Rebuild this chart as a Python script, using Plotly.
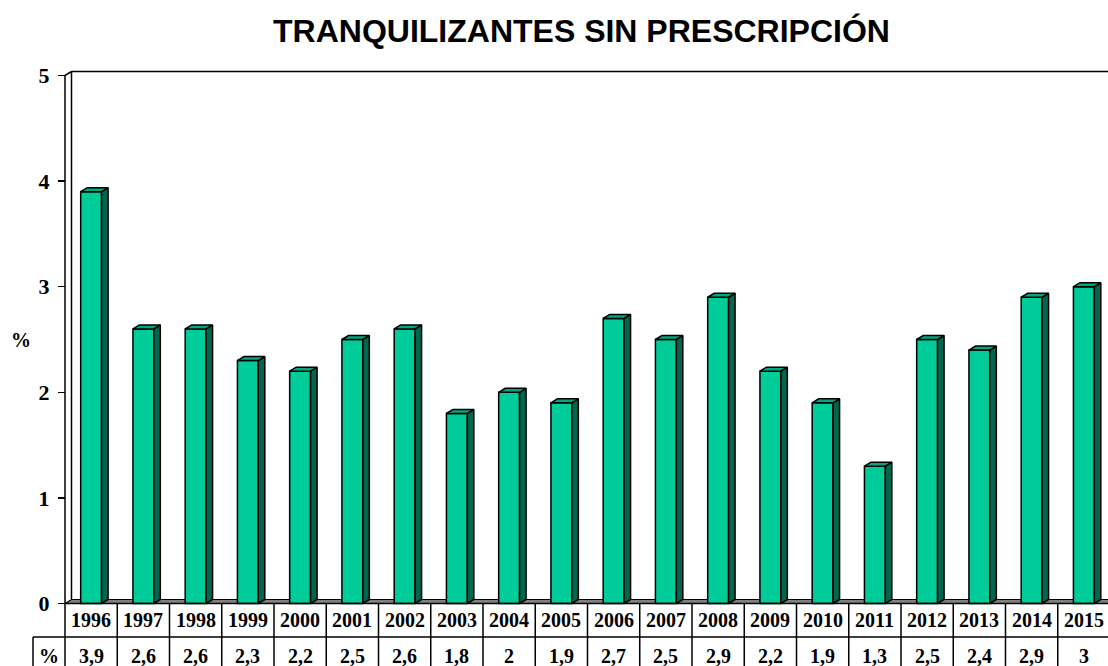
import plotly.graph_objects as go

years = ["1996", "1997", "1998", "1999", "2000", "2001", "2002", "2003", "2004", "2005",
         "2006", "2007", "2008", "2009", "2010", "2011", "2012", "2013", "2014", "2015"]
values = [3.9, 2.6, 2.6, 2.3, 2.2, 2.5, 2.6, 1.8, 2.0, 1.9,
          2.7, 2.5, 2.9, 2.2, 1.9, 1.3, 2.5, 2.4, 2.9, 3.0]
y_ticks = [0, 1, 2, 3, 4, 5]
title_text = "TRANQUILIZANTES SIN PRESCRIPCIÓN"
row_label = "%"
axis_title = "%"

FRONT = "#00CC99"
SIDE = "#00664D"
TOP = "#00A67C"
SERIF = "Liberation Serif, Times New Roman, serif"
SANS = "Liberation Sans, Arial, sans-serif"

W, H = 1108, 666
ML, MT = 30, 65
px_x = 52.25   # pixels per category
px_y = 105.6   # pixels per unit
x0 = -0.5 - (65 - ML) / px_x
x1 = x0 + (W - ML) / px_x
y_top = 5 + (75.5 - MT) / px_y
y_bot = -(H - 603.5) / px_y

bw = 0.40
dx = 6.5 / px_x
dy = 4.0 / px_y
row1_y = -(620 - 603.5) / px_y
row2_y = -(656 - 603.5) / px_y
row_split = -(637 - 603.5) / px_y
pct_left = x0 + (33 - ML) / px_x

n = len(years)
xs = list(range(n))

fig = go.Figure()

# front faces
fig.add_trace(go.Bar(x=xs, y=values, width=bw, marker=dict(color=FRONT, line=dict(color="black", width=1.5)),
                     hoverinfo="skip", showlegend=False))

# side and top faces
sx, sy = [], []
tx, ty = [], []
for i, v in zip(xs, values):
    r = i + bw / 2
    l = i - bw / 2
    sx += [r, r + dx, r + dx, r, r, None]
    sy += [0, dy, v + dy, v, 0, None]
    tx += [l, r, r + dx, l + dx, l, None]
    ty += [v, v, v + dy, v + dy, v, None]
fig.add_trace(go.Scatter(x=sx, y=sy, mode="lines", fill="toself", fillcolor=SIDE,
                         line=dict(color="black", width=1.5), hoverinfo="skip", showlegend=False))
fig.add_trace(go.Scatter(x=tx, y=ty, mode="lines", fill="toself", fillcolor=TOP,
                         line=dict(color="black", width=1.5), hoverinfo="skip", showlegend=False))

shapes = []
# floor
shapes.append(dict(type="path", xref="x", yref="y", layer="below",
                   path=f"M {-0.5},{0} L {-0.5 + dx},{dy} L {x1 + 1},{dy} L {x1 + 1},{0} Z",
                   fillcolor="#808080", line=dict(color="black", width=1.2)))
# back wall
shapes.append(dict(type="line", xref="x", yref="y", layer="below", x0=-0.5 + dx, x1=-0.5 + dx, y0=dy, y1=5 + dy,
                   line=dict(color="black", width=1.5)))
shapes.append(dict(type="line", xref="x", yref="y", layer="below", x0=-0.5 + dx, x1=x1 + 1, y0=5 + dy, y1=5 + dy,
                   line=dict(color="black", width=1.5)))
# front left wall edge
shapes.append(dict(type="path", xref="x", yref="y", layer="below",
                   path=f"M {-0.5},{0} L {-0.5},{5} L {-0.5 + dx},{5 + dy}",
                   line=dict(color="black", width=1.5)))
# table grid
shapes.append(dict(type="line", xref="x", yref="y", x0=-0.5, x1=x1 + 1, y0=0, y1=0,
                   line=dict(color="black", width=1.5)))
shapes.append(dict(type="line", xref="x", yref="y", x0=pct_left, x1=x1 + 1, y0=row_split, y1=row_split,
                   line=dict(color="black", width=1.5)))
shapes.append(dict(type="line", xref="x", yref="y", x0=pct_left, x1=pct_left, y0=row_split, y1=y_bot - 0.1,
                   line=dict(color="black", width=1.5)))
for k in range(n + 1):
    shapes.append(dict(type="line", xref="x", yref="y", x0=k - 0.5, x1=k - 0.5, y0=0, y1=y_bot - 0.1,
                       line=dict(color="black", width=1.5)))

tfont = dict(family=SERIF, size=20, color="black", weight="bold")
annotations = []
for i, (yr, v) in enumerate(zip(years, values)):
    annotations.append(dict(x=i, y=row1_y, xref="x", yref="y", text=yr, showarrow=False, font=tfont))
    annotations.append(dict(x=i, y=row2_y, xref="x", yref="y", text=f"{v:g}".replace(".", ","),
                            showarrow=False, font=tfont))
annotations.append(dict(x=(pct_left + (-0.5)) / 2, y=row2_y, xref="x", yref="y", text=row_label,
                        showarrow=False, font=tfont))
annotations.append(dict(x=(21 - ML) / (W - ML), y=(603.5 - 340) / px_y, xref="paper", yref="y",
                        xanchor="center", yanchor="middle",
                        text=axis_title, showarrow=False, font=tfont))

fig.update_layout(
    width=W, height=H,
    margin=dict(l=ML, r=0, t=MT, b=0, pad=0),
    paper_bgcolor="white", plot_bgcolor="white",
    title=dict(text=title_text, x=581.5 / W, xref="container", xanchor="center",
               y=1 - 31 / H, yref="container", yanchor="middle",
               font=dict(family=SANS, size=32, color="black", weight="bold")),
    xaxis=dict(range=[x0, x1], showgrid=False, zeroline=False, showticklabels=False, showline=False,
               ticks="", fixedrange=True),
    yaxis=dict(range=[y_bot, y_top], tickvals=y_ticks, ticktext=[str(t) for t in y_ticks],
               showgrid=False, zeroline=False, showline=False,
               ticks="outside", ticklen=7, tickwidth=1.5, tickcolor="black",
               anchor="free", position=(65 - ML) / (W - ML), ticklabelstandoff=4,
               tickfont=dict(family=SERIF, size=22, color="black", weight="bold")),
    shapes=shapes, annotations=annotations,
    bargap=0.6, showlegend=False,
)

fig.write_html("out.html", config={"displayModeBar": False, "staticPlot": True},
               post_script="document.body.style.margin='0';document.body.style.overflow='hidden';")
